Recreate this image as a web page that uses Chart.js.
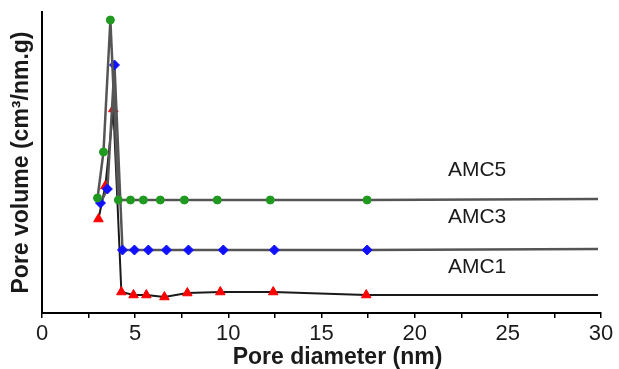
<!DOCTYPE html>
<html>
<head>
<meta charset="utf-8">
<script src="https://cdn.jsdelivr.net/npm/chart.js@4/dist/chart.umd.min.js"></script>
<style>
	body { margin: 0; background: #fff; }
</style>
</head>
<body>
<canvas id="canvas-pore" width="619" height="369"></canvas>
<script>
// 孔徑分布 data
const diameterAMC5 = [2.98, 3.30, 3.67, 4.10, 4.75, 5.44, 6.35, 7.64, 9.41, 12.25, 17.45, 29.84];
const volumeAMC5 = [1.15, 1.61, 2.93, 1.13, 1.13, 1.13, 1.13, 1.13, 1.13, 1.13, 1.13, 1.14];

const diameterAMC3 = [3.14, 3.51, 3.89, 4.32, 4.96, 5.71, 6.68, 7.86, 9.73, 12.47, 17.45, 29.84];
const volumeAMC3 = [1.10, 1.24, 2.48, 0.63, 0.63, 0.63, 0.63, 0.63, 0.63, 0.63, 0.63, 0.64];

const diameterAMC1 = [3.03, 3.40, 3.83, 4.26, 4.91, 5.60, 6.57, 7.80, 9.57, 12.41, 17.40, 29.84];
const volumeAMC1 = [0.94, 1.27, 2.04, 0.21, 0.18, 0.18, 0.16, 0.20, 0.21, 0.21, 0.18, 0.18];

const sampleNames = ["AMC5", "AMC3", "AMC1"];
const labelX = [23.35, 23.35, 23.35];
const labelY = [1.43, 0.96, 0.46];

function toPoints(xs, ys) {
	return xs.map((x, i) => ({ x: x, y: ys[i] }));
}
// last point only carries the line to the right edge, no marker
function radii(xs, r) {
	return xs.map((x, i) => (i === xs.length - 1 ? 0 : r));
}

const sampleLabels = {
	id: "sampleLabels",
	afterDraw(chart) {
		const { ctx, scales: { x, y }, chartArea } = chart;
		ctx.save();
		ctx.fillStyle = "#1a1a1a";
		ctx.textAlign = "center";
		ctx.textBaseline = "middle";
		ctx.font = "21px 'Liberation Sans', Arial";
		sampleNames.forEach((name, i) => {
			ctx.fillText(name, x.getPixelForValue(labelX[i]), y.getPixelForValue(labelY[i]));
		});
		// x axis title sits a bit right of centre in the original
		ctx.font = "bold 23px 'Liberation Sans', Arial";
		ctx.fillText("Pore diameter (nm)", (chartArea.left + chartArea.right) / 2 + 16, 358);
		ctx.restore();
	}
};

var ctx = document.getElementById("canvas-pore").getContext("2d");
var config = {
	type: "line",
	data: {
		datasets: [
			{
				label: "AMC5",
				data: toPoints(diameterAMC5, volumeAMC5),
				borderColor: "#555555",
				borderWidth: 2.5,
				pointStyle: "circle",
				pointRadius: radii(diameterAMC5, 4),
				pointBackgroundColor: "#1f9a1f",
				pointBorderColor: "#1f9a1f",
				pointBorderWidth: 1
			},
			{
				label: "AMC3",
				data: toPoints(diameterAMC3, volumeAMC3),
				borderColor: "#555555",
				borderWidth: 2.5,
				pointStyle: "rectRot",
				pointRadius: radii(diameterAMC3, 5),
				pointBackgroundColor: "#1010ff",
				pointBorderColor: "#1010ff",
				pointBorderWidth: 1
			},
			{
				label: "AMC1",
				data: toPoints(diameterAMC1, volumeAMC1),
				borderColor: "#1a1a1a",
				borderWidth: 2,
				pointStyle: "triangle",
				pointRadius: radii(diameterAMC1, 5.5),
				pointBackgroundColor: "#ff0000",
				pointBorderColor: "#ff0000",
				pointBorderWidth: 1
			}
		]
	},
	options: {
		responsive: false,
		animation: false,
		layout: { padding: { top: 12, right: 18 } },
		plugins: {
			legend: { display: false },
			tooltip: { enabled: false }
		},
		elements: { line: { tension: 0 } },
		scales: {
			x: {
				type: "linear",
				min: 0,
				max: 30,
				border: { display: true, color: "#000", width: 2 },
				grid: { display: true, drawOnChartArea: false, drawTicks: true, tickLength: 5, color: "#000", lineWidth: 1.5 },
				ticks: {
					stepSize: 2.5,
					autoSkip: false,
					maxRotation: 0,
					padding: 3,
					color: "#1a1a1a",
					font: { family: "'Liberation Sans', Arial", size: 22 },
					callback: (v) => (v % 5 === 0 ? v : "")
				},
				afterFit: (scale) => { scale.height = 56; }
			},
			y: {
				min: 0,
				max: 3.01,
				border: { display: true, color: "#000", width: 2 },
				grid: { display: false },
				ticks: { display: false },
				title: {
					display: true,
					text: "Pore volume (cm³/nm.g)",
					color: "#1a1a1a",
					font: { family: "'Liberation Sans', Arial", size: 23, weight: "bold", lineHeight: 1 },
					padding: { top: 10, bottom: 0 }
				},
				afterFit: (scale) => { scale.width = 42; }
			}
		}
	},
	plugins: [sampleLabels]
};

var poreChart = new Chart(ctx, config);
</script>
</body>
</html>
